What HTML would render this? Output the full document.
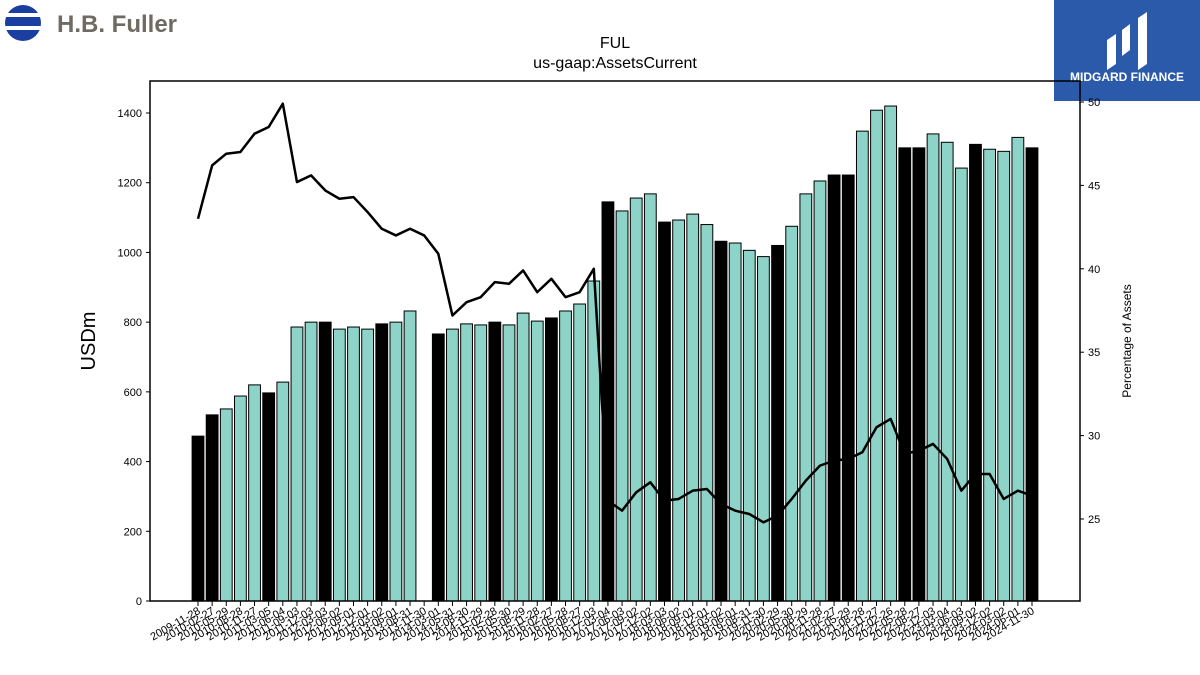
<!DOCTYPE html>
<html><head><meta charset="utf-8"><style>
body{margin:0;background:#fff;width:1200px;height:675px;overflow:hidden;font-family:"Liberation Sans",sans-serif}
svg{position:absolute;left:0;top:0}
</style></head><body>
<svg id="c" width="1200" height="675">
<g>
<clipPath id="cl"><circle cx="23" cy="23" r="18"/></clipPath>
<g clip-path="url(#cl)" fill="#1b3fa0"><rect x="0" y="4" width="46" height="9"/><rect x="0" y="17" width="46" height="9"/><rect x="0" y="30" width="46" height="12"/></g>
<text x="57" y="32" font-size="24" font-weight="bold" fill="#6f6a63">H.B. Fuller</text>
</g>
<g>
<rect x="1054" y="0" width="146" height="101" fill="#2c5aab"/>
<path d="M1107 70 L1107 40 L1116 34 L1116 64 Z M1122 56 L1122 30 L1130 24 L1130 50 Z M1138 70 L1138 18 L1147 12 L1147 64 Z" fill="#fff"/>
<text x="1127" y="81" font-size="12" font-weight="bold" fill="#fff" text-anchor="middle">MIDGARD FINANCE</text>
</g>
<text x="615" y="48" font-size="16" text-anchor="middle">FUL</text>
<text x="615" y="68" font-size="16" text-anchor="middle">us-gaap:AssetsCurrent</text>
<text transform="translate(95,341) rotate(-90)" font-size="20" text-anchor="middle">USDm</text>
<text transform="translate(1131,341) rotate(-90)" font-size="12" text-anchor="middle">Percentage of Assets</text>
<g id="bars"></g><g id="line"></g><g id="axes"></g>
</svg>
<script>
const categories=["2009-11-28","2010-02-27","2010-05-29","2010-08-28","2010-11-27","2011-03-05","2011-06-04","2011-09-03","2011-12-03","2012-03-03","2012-06-02","2012-09-01","2012-12-01","2013-03-02","2013-06-01","2013-08-31","2013-11-30","2014-03-01","2014-05-31","2014-08-30","2014-11-29","2015-02-28","2015-05-30","2015-08-29","2015-11-28","2016-02-27","2016-05-28","2016-08-27","2016-12-03","2017-03-04","2017-06-03","2017-09-02","2017-12-02","2018-03-03","2018-06-02","2018-09-01","2018-12-01","2019-03-02","2019-06-01","2019-08-31","2019-11-30","2020-02-29","2020-05-30","2020-08-29","2020-11-28","2021-02-27","2021-05-29","2021-08-28","2021-11-27","2022-02-26","2022-05-28","2022-08-27","2022-12-03","2023-03-04","2023-06-03","2023-09-02","2023-12-02","2024-03-02","2024-06-01","2024-11-30"];
const assetsCurrent=[473,534,551,588,620,597,628,786,800,800,780,786,780,795,800,832,null,766,780,795,792,800,792,826,803,812,832,852,918,1145,1119,1156,1168,1087,1093,1110,1080,1032,1027,1006,988,1020,1075,1168,1205,1222,1222,1348,1408,1420,1300,1300,1340,1316,1242,1310,1296,1290,1330,1300];
const isAnnual=[1,1,0,0,0,1,0,0,0,1,0,0,0,1,0,0,0,1,0,0,0,1,0,0,0,1,0,0,0,1,0,0,0,1,0,0,0,1,0,0,0,1,0,0,0,1,1,0,0,0,1,1,0,0,0,1,0,0,0,1];
const pctAssets=[43.0,46.2,46.9,47.0,48.1,48.5,49.9,45.2,45.6,44.7,44.2,44.3,43.4,42.4,42.0,42.4,42.0,40.9,37.2,38.0,38.3,39.2,39.1,39.9,38.6,39.4,38.3,38.6,40.0,26.1,25.5,26.6,27.2,26.1,26.2,26.7,26.8,25.9,25.5,25.3,24.8,25.2,26.2,27.3,28.2,28.5,28.6,29.0,30.5,31.0,28.9,29.1,29.5,28.6,26.7,27.7,27.7,26.2,26.7,26.4];
const leftTicks=[0,200,400,600,800,1000,1200,1400];
const rightTicks=[25,30,35,40,45,50];
const NS="http://www.w3.org/2000/svg";
const L=150,R=1080,T=81,B=601;
const yL=v=>B-v*(488/1400);
const yR=v=>519-(v-25)*(417/25);
const xC=i=>198+i*(1032-198)/59;
function mk(t,a,p){const e=document.createElementNS(NS,t);for(const k in a)e.setAttribute(k,a[k]);p.appendChild(e);return e;}
const bars=document.getElementById('bars');
assetsCurrent.forEach((v,i)=>{if(v==null)return;
 const r=mk('rect',{x:xC(i)-5.9,y:yL(v),width:11.8,height:B-yL(v),fill:isAnnual[i]?'#000':'#8dd3c7',stroke:'#000','stroke-width':1},bars);
 
 });
const ln=document.getElementById('line');
const pl=mk('polyline',{points:pctAssets.map((v,i)=>xC(i)+','+yR(v)).join(' '),fill:'none',stroke:'#000','stroke-width':2.5,'stroke-linejoin':'round'},ln);


const ax=document.getElementById('axes');
const fr=mk('rect',{x:L,y:T,width:R-L,height:B-T,fill:'none',stroke:'#000','stroke-width':1.5},ax);


leftTicks.forEach(v=>{const y=yL(v);mk('line',{x1:L-4,x2:L,y1:y,y2:y,stroke:'#000'},ax);
 const t=mk('text',{x:L-8,y:y+4,'font-size':11,'text-anchor':'end'},ax);t.textContent=v;
 
 });
rightTicks.forEach(v=>{const y=yR(v);mk('line',{x1:R,x2:R+4,y1:y,y2:y,stroke:'#000'},ax);
 const t=mk('text',{x:R+8,y:y+4,'font-size':11},ax);t.textContent=v;
 
 });
categories.forEach((c,i)=>{const x=xC(i);mk('line',{x1:x,x2:x,y1:B,y2:B+5,stroke:'#000'},ax);
 const t=mk('text',{transform:`translate(${x+3},${B+12}) rotate(-30)`,'font-size':11,'text-anchor':'end'},ax);t.textContent=c;
 
 });
</script>
</body></html>
